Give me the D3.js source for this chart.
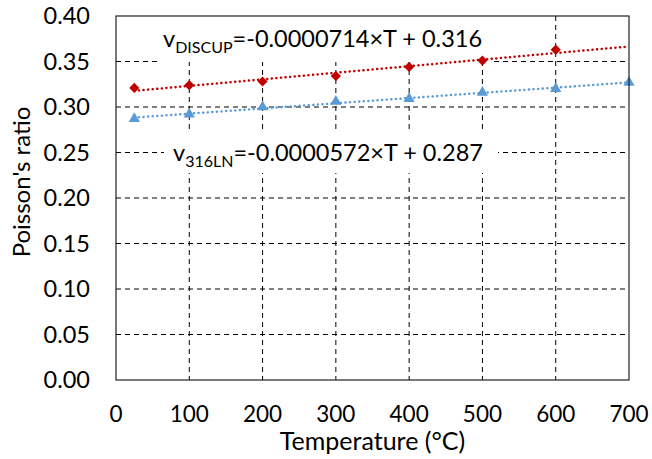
<!DOCTYPE html>
<html>
<head>
<meta charset="utf-8">
<script src="https://cdn.jsdelivr.net/npm/d3@7"></script>
<style>
  body { margin: 0; background: #fff; }
  text { font-family: Lato, "Open Sans", sans-serif; fill: #000; }
</style>
</head>
<body>
<div id="chart"></div>
<script>
// data
let tempsDiscup = [25, 100, 200, 300, 400, 500, 600],
    nuDiscup = [0.321, 0.324, 0.328, 0.334, 0.344, 0.351, 0.363];
let temps316 = [25, 100, 200, 300, 400, 500, 600, 700],
    nu316 = [0.287, 0.292, 0.300, 0.306, 0.309, 0.316, 0.320, 0.327];
let xTicks = [0, 100, 200, 300, 400, 500, 600, 700],
    yTicks = [0, 0.05, 0.10, 0.15, 0.20, 0.25, 0.30, 0.35, 0.40];

let W = 652, H = 459,
    margin = {top: 16, right: 23, bottom: 79, left: 116},
    width = W - margin.left - margin.right,
    height = H - margin.top - margin.bottom;

let svg = d3.select("#chart").append("svg")
    .attr("width", W).attr("height", H);
let g = svg.append("g")
    .attr("transform", "translate(" + margin.left + "," + margin.top + ")");

let x = d3.scaleLinear().domain([0, 700]).range([0, width]);
let y = d3.scaleLinear().domain([0, 0.40]).range([height, 0]);

// grid
g.append("g").selectAll("line").data(yTicks.slice(1, -1)).enter().append("line")
    .attr("x1", 0).attr("x2", width)
    .attr("y1", d => y(d)).attr("y2", d => y(d))
    .attr("stroke", "#000").attr("stroke-width", 1).attr("stroke-dasharray", "5,4");
g.append("g").selectAll("line").data(xTicks.slice(1, -1)).enter().append("line")
    .attr("y1", 0).attr("y2", height)
    .attr("x1", d => x(d)).attr("x2", d => x(d))
    .attr("stroke", "#000").attr("stroke-width", 1).attr("stroke-dasharray", "5,4");

// linear fit helper
function fit(xs, ys) {
    let mx = d3.mean(xs), my = d3.mean(ys);
    let b = d3.sum(xs, (v, i) => (v - mx) * (ys[i] - my)) / d3.sum(xs, v => (v - mx) * (v - mx));
    return {b: b, a: my - b * mx};
}

// equation labels (white boxes)
function eqLabel(xp, yp, bx, by, bw, bh, sub, rest) {
    g.append("rect").attr("x", bx).attr("y", by).attr("width", bw).attr("height", bh)
        .attr("fill", "#fff");
    let t = g.append("text").attr("x", xp).attr("y", yp).style("font-size", "23.5px");
    t.append("tspan").text("v");
    t.append("tspan").attr("dy", 6).style("font-size", "16px").text(sub);
    t.append("tspan").attr("dy", -6).text(rest);
}
eqLabel(47, 31, 42, 0, 336, 46, "DISCUP", "=-0.0000714×T + 0.316");
eqLabel(57, 145, 48, 117, 334, 40, "316LN", "=-0.0000572×T + 0.287");

// trend lines
let series = [
    {t: tempsDiscup, v: nuDiscup, color: "#C00000"},
    {t: temps316, v: nu316, color: "#5B9BD5"}
];
series.forEach(function(s) {
    let f = fit(s.t, s.v);
    g.append("line")
        .attr("x1", x(25)).attr("y1", y(f.a + f.b * 25))
        .attr("x2", x(700)).attr("y2", y(f.a + f.b * 700))
        .attr("stroke", s.color).attr("stroke-width", 2.5)
        .attr("stroke-dasharray", "0.1,4.5").attr("stroke-linecap", "round");
});

// markers
g.append("g").selectAll("path").data(tempsDiscup).enter().append("path")
    .attr("d", d3.symbol().type(d3.symbolDiamond2).size(66))
    .attr("transform", (d, i) => "translate(" + x(d) + "," + y(nuDiscup[i]) + ")")
    .attr("fill", "#C00000");
g.append("g").selectAll("path").data(temps316).enter().append("path")
    .attr("d", d3.symbol().type(d3.symbolTriangle).size(55))
    .attr("transform", (d, i) => "translate(" + x(d) + "," + y(nu316[i]) + ")")
    .attr("fill", "#5B9BD5");

// border
g.append("rect").attr("width", width).attr("height", height)
    .attr("fill", "none").attr("stroke", "#222").attr("stroke-width", 1.2);

// tick labels
g.append("g").selectAll("text").data(yTicks).enter().append("text")
    .attr("x", -26).attr("y", d => y(d)).attr("dy", "0.36em")
    .style("text-anchor", "end").style("font-size", "23.5px")
    .text(d => d3.format(".2f")(d));
g.append("g").selectAll("text").data(xTicks).enter().append("text")
    .attr("x", d => x(d)).attr("y", height + 42)
    .style("text-anchor", "middle").style("font-size", "22.5px")
    .text(d => d);

// axis titles
g.append("text").attr("x", width / 2).attr("y", height + 70)
    .style("text-anchor", "middle").style("font-size", "25px")
    .text("Temperature (°C)");
svg.append("text")
    .attr("transform", "translate(30,182) rotate(-90)")
    .style("text-anchor", "middle").style("font-size", "24px")
    .text("Poisson's ratio");
</script>
</body>
</html>
